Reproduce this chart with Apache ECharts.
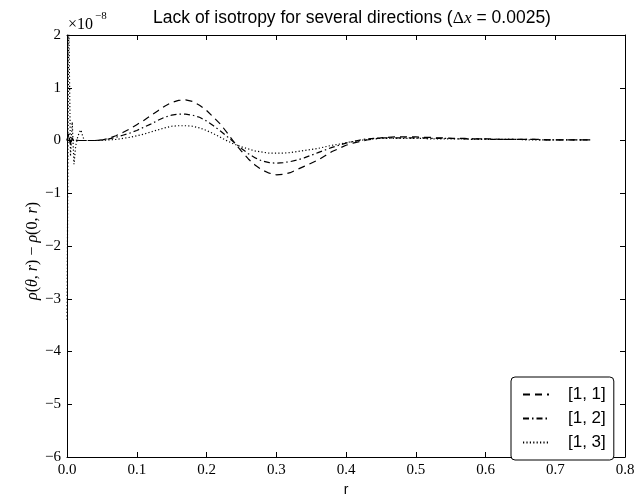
<!DOCTYPE html>
<html>
<head>
<meta charset="utf-8">
<script src="https://cdn.jsdelivr.net/npm/echarts@6/dist/echarts.min.js"></script>
<style>html,body{margin:0;padding:0;background:#fff}#c{width:642px;height:502px}</style>
</head>
<body>
<div id="c"></div>
<script>
// r values (radial coordinate)
var rValues = [0, 0.0025, 0.005, 0.0075, 0.01, 0.0125, 0.015, 0.0175, 0.02, 0.0225, 0.025, 0.0275,
  0.03, 0.04, 0.05, 0.06, 0.07, 0.08, 0.09, 0.10, 0.11, 0.12, 0.13, 0.14, 0.15, 0.16, 0.17, 0.18, 0.19,
  0.20, 0.21, 0.22, 0.23, 0.24, 0.25, 0.26, 0.27, 0.28, 0.29, 0.30, 0.31, 0.32, 0.33, 0.34, 0.35, 0.36,
  0.37, 0.38, 0.39, 0.40, 0.41, 0.42, 0.43, 0.44, 0.45, 0.46, 0.47, 0.48, 0.49, 0.50, 0.51, 0.52, 0.53,
  0.54, 0.55, 0.56, 0.57, 0.58, 0.59, 0.60, 0.61, 0.62, 0.63, 0.64, 0.65, 0.66, 0.67, 0.68, 0.69, 0.70,
  0.71, 0.72, 0.73, 0.74, 0.75];
// values in units of 1e-8
var dir11 = [0, 0.12, -0.05, 0.03, 0.0, 0.01, 0, 0, 0, 0, 0, 0,
  0.00, 0.00, 0.01, 0.04, 0.09, 0.15, 0.22, 0.30, 0.38, 0.47, 0.56, 0.65, 0.72, 0.76, 0.77, 0.74, 0.67,
  0.57, 0.44, 0.31, 0.14, -0.04, -0.20, -0.35, -0.47, -0.56, -0.62, -0.65, -0.64, -0.61, -0.55, -0.49, -0.43, -0.37,
  -0.29, -0.21, -0.15, -0.09, -0.05, -0.02, 0.01, 0.03, 0.05, 0.06, 0.07, 0.07, 0.07, 0.07, 0.06, 0.06, 0.05,
  0.05, 0.04, 0.04, 0.04, 0.03, 0.03, 0.03, 0.03, 0.02, 0.02, 0.02, 0.02, 0.02, 0.02, 0.02, 0.01, 0.01,
  0.01, 0.01, 0.01, 0.01, 0.01];
var dir12 = [0, 0.15, -0.1, 0.05, -0.02, 0.01, 0, 0, 0, 0, 0, 0,
  0.00, 0.00, 0.01, 0.03, 0.06, 0.10, 0.14, 0.19, 0.25, 0.31, 0.38, 0.44, 0.48, 0.50, 0.50, 0.48, 0.44,
  0.37, 0.28, 0.18, 0.07, -0.04, -0.15, -0.25, -0.33, -0.39, -0.42, -0.43, -0.42, -0.40, -0.37, -0.33, -0.28, -0.23,
  -0.18, -0.13, -0.09, -0.05, -0.02, 0.01, 0.03, 0.04, 0.05, 0.05, 0.05, 0.05, 0.05, 0.05, 0.05, 0.04, 0.04,
  0.04, 0.04, 0.03, 0.03, 0.03, 0.03, 0.03, 0.02, 0.02, 0.02, 0.02, 0.02, 0.02, 0.02, 0.01, 0.01, 0.01,
  0.01, 0.01, 0.01, 0.01, 0.01];
var dir13 = [-3.4, 2.3, -0.3, 0.35, -0.45, -0.1, 0.05, 0.15, 0.2, 0.08, 0.0, 0.0,
  0.00, 0.00, 0.00, 0.01, 0.02, 0.04, 0.06, 0.09, 0.12, 0.16, 0.20, 0.24, 0.27, 0.28, 0.28, 0.27, 0.24,
  0.19, 0.13, 0.06, -0.01, -0.07, -0.12, -0.16, -0.20, -0.22, -0.24, -0.24, -0.24, -0.23, -0.21, -0.19, -0.17, -0.15,
  -0.12, -0.09, -0.07, -0.04, -0.02, 0.00, 0.02, 0.03, 0.04, 0.04, 0.04, 0.04, 0.04, 0.04, 0.04, 0.03, 0.03,
  0.03, 0.03, 0.03, 0.03, 0.02, 0.02, 0.02, 0.02, 0.02, 0.02, 0.02, 0.02, 0.01, 0.01, 0.01, 0.01, 0.01,
  0.01, 0.01, 0.01, 0.01, 0.01];
var seriesNames = ['[1, 1]', '[1, 2]', '[1, 3]'];
var xTickLabels = ['0.0', '0.1', '0.2', '0.3', '0.4', '0.5', '0.6', '0.7', '0.8'];
var yTickLabels = ['\u22126', '\u22125', '\u22124', '\u22123', '\u22122', '\u22121', '0', '1', '2'];

function pairs(vals) { return rValues.map(function (r, i) { return [r, vals[i]]; }); }

var chart = echarts.init(document.getElementById('c'), null, {renderer: 'canvas'});
var serif = 'Liberation Serif';
var sans = 'Liberation Sans';
var styles = [[7, 5], [6, 3, 1.5, 3], [1.2, 2.2]];
var datas = [dir11, dir12, dir13];
var tickCommon = {show: true, inside: true, length: 5, lineStyle: {color: '#000', width: 1}};
var axisLineCommon = {show: true, onZero: false, lineStyle: {color: '#000', width: 1}};

chart.setOption({
  animation: false,
  backgroundColor: '#fff',
  title: {
    text: '{a|Lack of isotropy for several directions (}{d|\u0394}{i|x}{a| = 0.0025)}',
    left: 347, top: 4, textAlign: 'center',
    textStyle: {
      fontWeight: 'normal',
      rich: {
        a: {fontFamily: sans, fontSize: 17.5, fontWeight: 'normal', color: '#000'},
        d: {fontFamily: serif, fontSize: 17.5, fontWeight: 'normal', color: '#000'},
        i: {fontFamily: serif, fontSize: 17.5, fontWeight: 'normal', fontStyle: 'italic', color: '#000'}
      }
    }
  },
  grid: {left: 67, right: 17, top: 35, bottom: 36, containLabel: false},
  legend: {
    orient: 'vertical', left: 511, top: 377,
    data: seriesNames,
    itemWidth: 26, itemHeight: 16, itemGap: 7, itemTextGap: 5,
    padding: [9, 8, 9, 11],
    borderColor: '#000', borderWidth: 1, borderRadius: 4,
    backgroundColor: '#fff',
    itemStyle: {opacity: 0},
    textStyle: {fontFamily: sans, fontSize: 17, color: '#000', padding: [0, 0, 0, 14]}
  },
  xAxis: [{
    type: 'value', min: 0, max: 0.8, interval: 0.1, position: 'bottom',
    axisLine: axisLineCommon, axisTick: tickCommon, splitLine: {show: false},
    axisLabel: {fontFamily: serif, fontSize: 15, color: '#000', margin: 6,
      formatter: function (v) { return xTickLabels[Math.round(v * 10)]; }},
    name: 'r', nameLocation: 'middle', nameGap: 26,
    nameTextStyle: {fontFamily: sans, fontSize: 14, color: '#000'}
  }, {
    type: 'value', min: 0, max: 0.8, interval: 0.1, position: 'top',
    axisLine: axisLineCommon, axisTick: tickCommon, splitLine: {show: false},
    axisLabel: {show: false}
  }],
  yAxis: [{
    type: 'value', min: -6, max: 2, interval: 1, position: 'left',
    axisLine: axisLineCommon, axisTick: tickCommon, splitLine: {show: false},
    axisLabel: {fontFamily: serif, fontSize: 15, color: '#000', margin: 6,
      formatter: function (v) { return yTickLabels[Math.round(v) + 6]; }}
  }, {
    type: 'value', min: -6, max: 2, interval: 1, position: 'right',
    axisLine: axisLineCommon, axisTick: tickCommon, splitLine: {show: false},
    axisLabel: {show: false}
  }],
  graphic: [{
    type: 'text', left: 68, top: 17,
    style: {text: '\u00d710', fontSize: 16, fontFamily: serif, fill: '#000'}
  }, {
    type: 'text', left: 95, top: 11,
    style: {text: '\u22128', fontSize: 11, fontFamily: serif, fill: '#000'}
  }, {
    type: 'text', x: 33, y: 251, rotation: Math.PI / 2,
    style: {
      text: '{i|\u03c1}{a|(}{i|\u03b8, r}{a|) \u2212 }{i|\u03c1}{a|(0, }{i|r}{a|)}',
      align: 'center', verticalAlign: 'middle',
      rich: {
        i: {fontFamily: serif, fontSize: 16, fontStyle: 'italic', fill: '#000'},
        a: {fontFamily: serif, fontSize: 16, fill: '#000'}
      }
    }
  }],
  series: datas.map(function (d, k) {
    return {
      name: seriesNames[k], type: 'line', data: pairs(d),
      xAxisIndex: 0, yAxisIndex: 0,
      showSymbol: false, symbol: 'none', clip: true,
      lineStyle: {color: '#000', width: 1.2, type: styles[k]},
      itemStyle: {color: '#000'}
    };
  })
});
</script>
</body>
</html>
